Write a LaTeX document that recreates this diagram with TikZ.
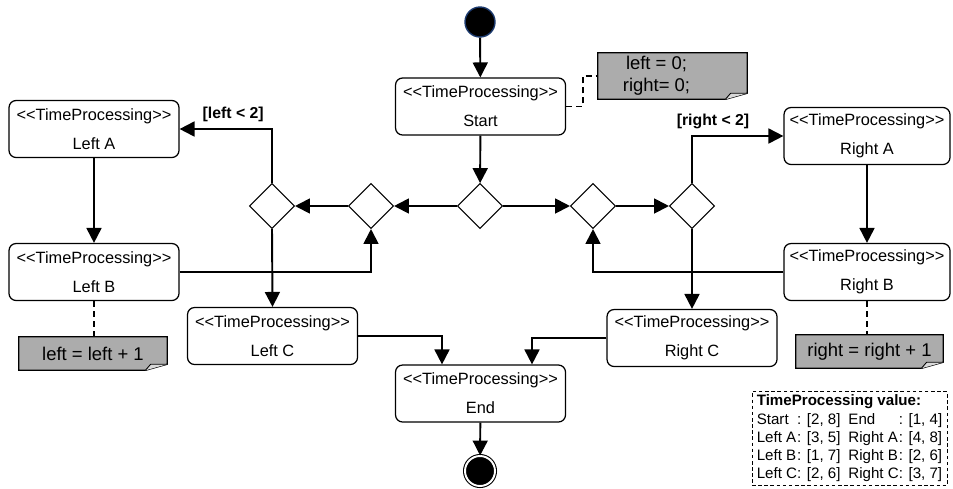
\documentclass[tikz,border=0pt]{standalone}
\usepackage{fontspec}
\setmainfont{Liberation Sans}[Ligatures=TeXOff]
\usetikzlibrary{shapes.geometric,arrows.meta,calc,backgrounds}

\definecolor{stateblue}{RGB}{28,58,110}
\definecolor{notegray}{RGB}{172,172,172}

\tikzset{
  tpbox/.style={draw, rounded corners=4pt, line width=0.7pt, minimum width=3.4cm,
    minimum height=1.14cm, inner sep=0pt, align=center,
    font=\fontsize{9.3}{16.5}\selectfont},
  choice/.style={draw, diamond, aspect=1, minimum size=0.9cm, inner sep=0pt, line width=0.6pt},
  flow/.style={line width=1.1pt, -{Triangle[length=8.5pt,width=8.5pt]}},
  link/.style={line width=1.1pt, dash pattern=on 3.5pt off 2.2pt},
  note/.style={inner sep=0pt, align=center, font=\fontsize{10.5}{12.5}\selectfont},
  guard/.style={font=\bfseries\fontsize{9}{11}\selectfont},
  initial/.style={circle, fill=black, draw=stateblue, line width=0.8pt, minimum size=0.6cm, inner sep=0pt},
  final/.style={circle, fill=black, draw=black, double=white, double distance=1.1pt,
    line width=0.6pt, minimum size=0.6cm, inner sep=0pt},
}

\newcommand{\tp}{<<TimeProcessing>>}
% folded note body, drawn behind the note text
\newcommand{\dogear}[1]{%
  \begin{pgfonlayer}{background}
    \draw[line width=0.7pt, fill=notegray] (#1.north west) -- (#1.north east)
      -- ([yshift=3.5pt]#1.south east) -- ([xshift=-12.5pt]#1.south east)
      -- (#1.south west) -- cycle;
    \draw[line width=0.5pt, fill=gray!30] ([xshift=-12.5pt]#1.south east)
      -- ([xshift=-9.5pt,yshift=3.5pt]#1.south east) -- ([yshift=3.5pt]#1.south east);
  \end{pgfonlayer}}

\begin{document}
\begin{tikzpicture}[x=0.02cm, y=-0.02cm]
    \useasboundingbox (0,0) rectangle (953,488);

    % states
    \node[initial] (init) at (480,22) {};
    \node[tpbox] (start) at (480.5,106.5) {\tp\\Start};
    \node[tpbox] (leftA) at (94,129) {\tp\\Left A};
    \node[tpbox] (leftB) at (94,272) {\tp\\Left B};
    \node[tpbox] (leftC) at (272.5,336) {\tp\\Left C};
    \node[tpbox, minimum width=3.32cm] (rightA) at (867,136) {\tp\\Right A};
    \node[tpbox, minimum width=3.32cm] (rightB) at (867,272) {\tp\\Right B};
    \node[tpbox] (rightC) at (692,338) {\tp\\Right C};
    \node[tpbox] (endbox) at (480.5,393.5) {\tp\\End};
    \node[final] (fin) at (480,471) {};

    % decisions
    \node[choice] (d1) at (272,206) {};
    \node[choice] (d2) at (371,206) {};
    \node[choice] (d3) at (480,206) {};
    \node[choice] (d4) at (593,206) {};
    \node[choice] (d5) at (692,206) {};

    % notes
    \node[note, minimum width=2.98cm, minimum height=0.92cm] (noteS) at (672.5,76)
      {left = 0;\hspace*{0.64cm}\\right= 0;\hspace*{0.64cm}};
    \node[note, minimum width=2.96cm, minimum height=0.66cm] (noteL) at (93,353.5) {left = left + 1};
    \node[note, minimum width=2.94cm, minimum height=0.66cm] (noteR) at (869.5,351.5) {right = right + 1};
    \dogear{noteS}
    \dogear{noteL}
    \dogear{noteR}

    % legend
    \node[draw, line width=0.5pt, dash pattern=on 2pt off 1.5pt, minimum width=3.9cm,
      minimum height=1.74cm, inner sep=1pt, font=\fontsize{8.6}{10.3}\selectfont]
      (legend) at (849.5,438.5) {%
      \begin{tabular}{@{}l@{}l@{\hspace{4.5pt}}l@{}l@{}}
        \multicolumn{4}{@{}l@{}}{\textbf{TimeProcessing value:}}\\
        Start & : [2, 8] & End & : [1, 4]\\
        Left A & : [3, 5] & Right A & : [4, 8]\\
        Left B & : [1, 7] & Right B & : [2, 6]\\
        Left C & : [2, 6] & Right C & : [3, 7]
      \end{tabular}};

    % flows
    \draw[flow] (init) -- (start);
    \draw[flow] (start) -- (d3);
    \draw[flow] (d3) -- (d2);
    \draw[flow] (d2) -- (d1);
    \draw[flow] (d3) -- (d4);
    \draw[flow] (d4) -- (d5);
    \draw[flow] (d1.north) |- node[guard, above, pos=0.71] {[left < 2]} (leftA.east);
    \draw[flow] (leftA) -- (leftB);
    \draw[flow] (leftB.east) -| (d2.south);
    \draw[flow] (d1.south) -- (leftC.north);
    \draw[flow] (leftC.east) -| ($(endbox.north)+(-38.5,0)$);
    \draw[flow] (d5.north) |- node[guard, above, pos=0.615] {[right < 2]} (rightA.west);
    \draw[flow] (rightA) -- (rightB);
    \draw[flow] (rightB.west) -| (d4.south);
    \draw[flow] (d5.south) -- (rightC.north);
    \draw[flow] (rightC.west) -| ($(endbox.north)+(51.5,0)$);
    \draw[flow] (endbox) -- (fin);

    % note links
    \draw[link] (start.east) -- ++(17,0) |- (noteS.west);
    \draw[link] (leftB.south) -- (leftB.south |- noteL.north);
    \draw[link] (rightB.south) -- (rightB.south |- noteR.north);
\end{tikzpicture}
\end{document}
